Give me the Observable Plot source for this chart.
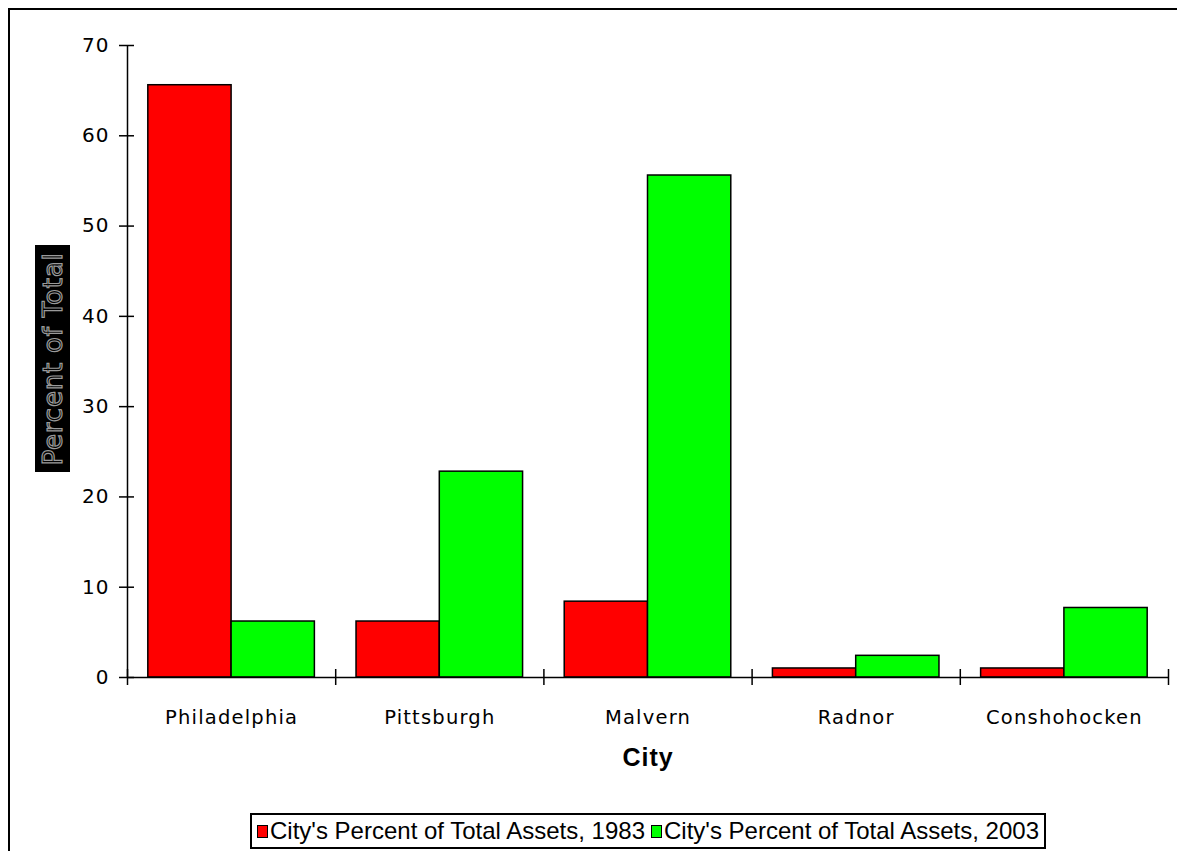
<!DOCTYPE html>
<html>
<head>
<meta charset="utf-8">
<script src="https://cdn.jsdelivr.net/npm/d3@7"></script>
<script src="https://cdn.jsdelivr.net/npm/@observablehq/plot@0.6"></script>
<style>
  html, body { margin: 0; padding: 0; background: #fff; }
  #wrap { position: relative; width: 1177px; height: 851px; overflow: hidden; }
  #frame { position: absolute; left: 8px; top: 8px; width: 1300px; height: 1000px;
           border-top: 2.5px solid #000; border-left: 2.5px solid #000; }
  #chart { position: absolute; left: 0; top: 0; }
  #ylabel { position: absolute; left: 35px; top: 245px; width: 35px; height: 227px; background: #000; }
  #ylabel span { position: absolute; left: 50%; top: 50%; white-space: nowrap;
     transform: translate(-50%, -50%) rotate(-90deg);
     font-family: "DejaVu Sans", sans-serif; font-size: 26px; letter-spacing: 0.8px;
     color: #000; -webkit-text-stroke: 1.2px #9a9a9a; }
  #legend { position: absolute; left: 250px; top: 813px; width: 792px; height: 32px;
     border: 2px solid #000; background: #fff; display: flex; align-items: center; justify-content: center;
     font-family: "Liberation Sans", Arial, sans-serif; font-size: 24px; color: #000; white-space: nowrap; }
  .sw { display: inline-block; width: 9px; height: 11px; border: 1.5px solid #000; margin: 0 2px 0 3px; vertical-align: middle; }
  .item { display: inline-flex; align-items: center; margin-right: 3px; }
</style>
</head>
<body>
<div id="wrap">
  <div id="frame"></div>
  <div id="chart"></div>
  <div id="ylabel"><span>Percent of Total</span></div>
  <div id="legend"></div>
</div>
<script>
const cities = ["Philadelphia", "Pittsburgh", "Malvern", "Radnor", "Conshohocken"];
const series = ["City's Percent of Total Assets, 1983", "City's Percent of Total Assets, 2003"];
const values1983 = [65.6, 6.2, 8.4, 1.0, 1.0];
const values2003 = [6.2, 22.8, 55.6, 2.4, 7.7];
const colors = ["#ff0000", "#00ff00"];
const yTicks = [0, 10, 20, 30, 40, 50, 60, 70];

// table built from arrays: each city occupies [i, i+1] on a linear x scale
const rows = [];
cities.forEach((c, i) => {
  rows.push({city: c, series: series[0], x1: i + 0.1, x2: i + 0.5, value: values1983[i]});
  rows.push({city: c, series: series[1], x1: i + 0.5, x2: i + 0.9, value: values2003[i]});
});
const boundaries = d3.range(cities.length + 1);

const font = "'DejaVu Sans', sans-serif";

const plot = Plot.plot({
  width: 1177,
  height: 800,
  marginLeft: 127,
  marginRight: 9,
  marginTop: 45,
  marginBottom: 123,
  style: {background: "transparent", fontFamily: font},
  x: {domain: [0, cities.length], axis: null},
  y: {domain: [0, 70], axis: null},
  color: {domain: series, range: colors},
  marks: [
    Plot.rectY(rows, {x1: "x1", x2: "x2", y1: 0, y2: "value", fill: "series", stroke: "#000", strokeWidth: 1.5}),
    Plot.ruleX([0], {y1: 0, y2: 70, stroke: "#000", strokeWidth: 1.5}),
    Plot.ruleY(yTicks, {y: d => d, x1: 0, x2: 0, insetLeft: -8, insetRight: -7, stroke: "#000", strokeWidth: 1.5}),
    Plot.text(yTicks, {x: 0, y: d => d, text: d => String(d), dx: -18, textAnchor: "end",
      fontSize: 20, fill: "#000"}),
    Plot.ruleY([0], {x1: 0, x2: cities.length, stroke: "#000", strokeWidth: 1.5}),
    Plot.ruleX(boundaries, {x: d => d, y1: 0, y2: 0, insetTop: -8, insetBottom: -8, stroke: "#000", strokeWidth: 1.5}),
    Plot.text(cities, {x: (d, i) => i + 0.5, y: 0, text: d => d, dy: 40, fontSize: 19.5, fill: "#000"}),
    Plot.text(["City"], {x: cities.length / 2, y: 0, text: d => d, dy: 80, fontSize: 25, fontWeight: "bold", fill: "#000",
      fontFamily: "'Liberation Sans', Arial, sans-serif"})
  ]
});
const textGroups = plot.querySelectorAll('g[aria-label="text"]');
textGroups[0].setAttribute("letter-spacing", "1");
textGroups[1].setAttribute("letter-spacing", "1.2");
textGroups[2].setAttribute("letter-spacing", "1");
document.getElementById("chart").appendChild(plot);

const legend = document.getElementById("legend");
series.forEach((s, i) => {
  const item = document.createElement("span");
  item.className = "item";
  const sw = document.createElement("span");
  sw.className = "sw";
  sw.style.background = colors[i];
  item.appendChild(sw);
  item.appendChild(document.createTextNode(s));
  legend.appendChild(item);
});
</script>
</body>
</html>
